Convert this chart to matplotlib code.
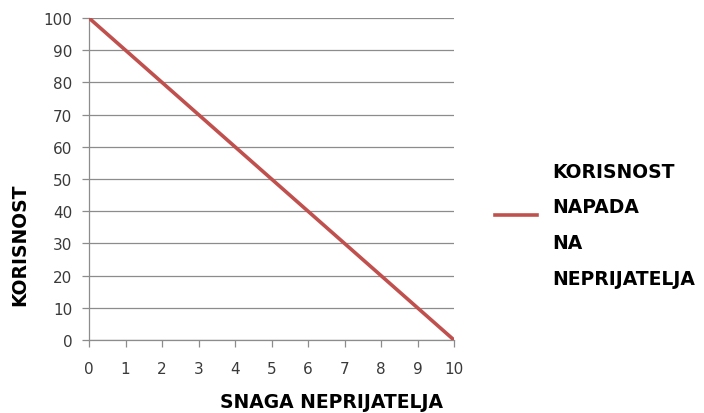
import matplotlib
matplotlib.use("Agg")
import matplotlib.pyplot as plt

x_vals = [0, 1, 2, 3, 4, 5, 6, 7, 8, 9, 10]
y_vals = [100, 90, 80, 70, 60, 50, 40, 30, 20, 10, 0]
y_ticks = [0, 10, 20, 30, 40, 50, 60, 70, 80, 90, 100]
series_label = "KORISNOST\nNAPADA\nNA\nNEPRIJATELJA"
x_label = "SNAGA NEPRIJATELJA"
y_label = "KORISNOST"

W, H = 704, 414
fig = plt.figure(figsize=(W / 100, H / 100), dpi=100)
ax = fig.add_axes([89 / W, 1 - 341 / H, (454 - 89) / W, (341 - 19) / H])

ax.plot(x_vals, y_vals, color="#C0504D", linewidth=2.6, solid_capstyle="butt", zorder=3)
ax.set_xlim(0, 10)
ax.set_ylim(0, 100)
ax.set_xticks(x_vals)
ax.set_yticks(y_ticks)
ax.yaxis.grid(True, color="#8C8C8C", linewidth=0.9)
ax.set_axisbelow(True)
for s in ["top", "right"]:
    ax.spines[s].set_visible(False)
for s in ["left", "bottom"]:
    ax.spines[s].set_color("#8C8C8C")
    ax.spines[s].set_linewidth(0.9)
ax.tick_params(axis="both", colors="#8C8C8C", length=5, width=0.9, labelcolor="#3A3A3A", labelsize=11)
ax.tick_params(axis="x", pad=10)
ax.tick_params(axis="y", pad=7)
for lab in ax.get_xticklabels() + ax.get_yticklabels():
    lab.set_fontfamily("DejaVu Sans")

bold = dict(fontfamily="DejaVu Sans", fontweight="bold", fontsize=13.5, color="black")
fig.text(331 / W, 1 - 403 / H, x_label, ha="center", va="center", **bold)
fig.text(20 / W, 1 - 245 / H, y_label, ha="center", va="center", rotation=90, **bold)

fig.lines.append(plt.Line2D([495 / W, 537 / W], [1 - 216 / H, 1 - 216 / H], transform=fig.transFigure,
                            color="#C0504D", linewidth=2.6))
lines = series_label.split("\n")
top_y, step = 172, 35.7
for i, t in enumerate(lines):
    fig.text(552 / W, 1 - (top_y + i * step) / H, t, ha="left", va="center", **bold)

fig.savefig("out.png", dpi=100)
